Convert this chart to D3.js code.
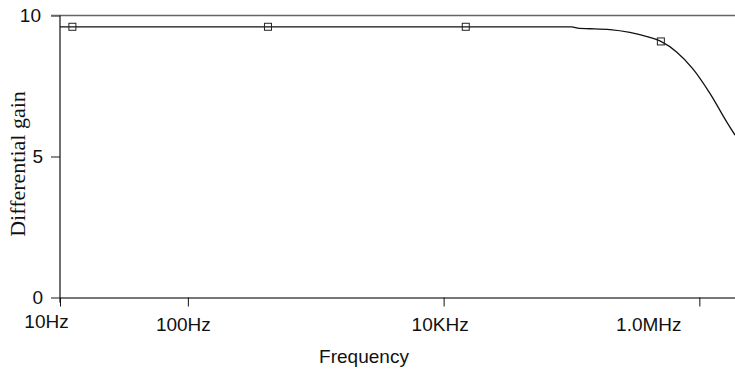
<!DOCTYPE html>
<html>
<head>
<meta charset="utf-8">
<script src="https://cdn.jsdelivr.net/npm/d3@7"></script>
<style>
  body { margin: 0; background: #fff; }
  svg { display: block; }
  text { font-family: "Liberation Sans", Arial, sans-serif; fill: #111; }
</style>
</head>
<body>
<div id="chart"></div>
<script>
// frequency response data (Hz, gain)
const curveFreq = [10, 1.0e5, 1.15e5, 1.4e5, 2.0e5, 2.86e5, 3.9e5, 5.0e5, 6.67e5, 8.9e5, 1.21e6, 1.64e6, 1.9e6];
const curveGain = [9.60, 9.60, 9.54, 9.53, 9.50, 9.40, 9.25, 9.08, 8.70, 8.11, 7.24, 6.22, 5.76];

const markerFreq = [12.5, 423, 14900, 5.0e5];
const markerGain = [9.60, 9.60, 9.60, 9.08];

const xTicks = [10, 100, 1e4, 1e6];
const xTickLabels = ["10Hz", "100Hz", "10KHz", "1.0MHz"];
const yTicks = [0, 5, 10];

;(function () {
    const W = 735, H = 370;

    const svg = d3.select("#chart")
        .append("svg")
        .attr("width", W)
        .attr("height", H);

    const x = d3.scaleLog().domain([10, 1.9e6]).range([60, 735]);
    const y = d3.scaleLinear().domain([0, 10]).range([297.5, 15.5]);

    // top frame line at 10
    svg.append("line")
        .attr("x1", 51).attr("x2", W)
        .attr("y1", y(10)).attr("y2", y(10))
        .attr("stroke", "#666").attr("stroke-width", 1.5);

    // y axis ticks + labels
    const yAxis = d3.axisLeft(y).tickValues(yTicks).tickSize(9).tickPadding(8).tickFormat(d3.format("d"));
    const gy = svg.append("g")
        .attr("transform", "translate(60,0)")
        .call(yAxis);
    gy.select(".domain").remove();
    gy.selectAll(".tick line").attr("stroke", "#666").attr("stroke-width", 1.5);
    gy.selectAll(".tick text")
        .style("font-size", "19px")
        .style("font-family", "Liberation Sans, Arial, sans-serif")
        .attr("fill", "#111")
        .attr("dx", d => d === 10 ? -2 : 0);

    // x axis
    const xAxis = d3.axisBottom(x)
        .tickValues(xTicks)
        .tickSize(9)
        .tickSizeOuter(0)
        .tickFormat((d, i) => xTickLabels[i]);
    const gx = svg.append("g")
        .attr("transform", "translate(0," + y(0) + ")")
        .call(xAxis);
    gx.select(".domain").attr("stroke", "#777").attr("stroke-width", 2);
    gx.selectAll(".tick line").attr("stroke", "#111").attr("stroke-width", 1);

    // tick labels sit a little off their ticks in the original
    const labelDx = [-14, -5, -4, -51];
    const labelDy = [-3, 0, 0, 0];
    gx.selectAll(".tick text")
        .style("font-size", "19px")
        .style("font-family", "Liberation Sans, Arial, sans-serif")
        .attr("fill", "#111")
        .attr("y", (d, i) => 20 + labelDy[i])
        .attr("dx", (d, i) => labelDx[i]);

    // vertical axis line
    svg.append("line")
        .attr("x1", x(10)).attr("x2", x(10))
        .attr("y1", y(10)).attr("y2", y(0) + 5)
        .attr("stroke", "#111").attr("stroke-width", 1.2);

    // the curve
    const pts = curveFreq.map((f, i) => ({ f: f, g: curveGain[i] }));
    const line = d3.line()
        .x(d => x(d.f))
        .y(d => y(d.g))
        .curve(d3.curveMonotoneX);

    svg.append("path")
        .datum(pts)
        .attr("fill", "none")
        .attr("stroke", "#111")
        .attr("stroke-width", 1.3)
        .attr("d", line);

    // square markers
    const mk = markerFreq.map((f, i) => ({ f: f, g: markerGain[i] }));
    svg.selectAll(".marker")
        .data(mk)
        .enter().append("rect")
        .attr("class", "marker")
        .attr("x", d => x(d.f) - 3.5)
        .attr("y", d => y(d.g) - 3.5)
        .attr("width", 7)
        .attr("height", 7)
        .attr("fill", "none")
        .attr("stroke", "#222")
        .attr("stroke-width", 1);

    // axis titles
    svg.append("text")
        .attr("x", 364)
        .attr("y", 363)
        .attr("text-anchor", "middle")
        .style("font-size", "19px")
        .text("Frequency");

    svg.append("text")
        .attr("transform", "translate(25,164) rotate(-90)")
        .attr("text-anchor", "middle")
        .style("font-family", "Liberation Serif, Times New Roman, serif")
        .style("font-size", "22px")
        .text("Differential gain");
})()
</script>
</body>
</html>
